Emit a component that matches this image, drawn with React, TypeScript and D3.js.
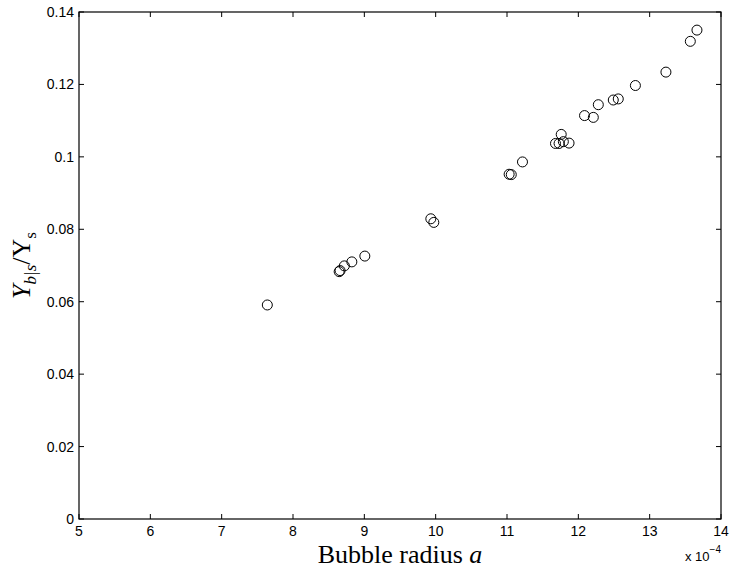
import React, { useEffect, useRef } from 'react';
import * as d3 from 'd3';

// bubble radius in units of 1e-4
const radius = [7.64, 8.647, 8.66, 8.72, 8.825, 9.007, 9.932, 9.974, 11.03, 11.06, 11.217,
  11.68, 11.73, 11.76, 11.79, 11.87, 12.087, 12.21, 12.28, 12.49, 12.56, 12.80, 13.228, 13.57, 13.663];
const ratio = [0.0591, 0.0683, 0.0686, 0.0699, 0.0710, 0.0726, 0.0829, 0.0819, 0.0952, 0.0951, 0.0986,
  0.1037, 0.1037, 0.1062, 0.1042, 0.1038, 0.1114, 0.1109, 0.1144, 0.1157, 0.1160, 0.1197, 0.1234, 0.1319, 0.1350];

const xTicks = [5, 6, 7, 8, 9, 10, 11, 12, 13, 14];
const yTicks = [0, 0.02, 0.04, 0.06, 0.08, 0.1, 0.12, 0.14];

const App = () => {
  const ref = useRef<SVGSVGElement | null>(null);

  useEffect(() => {
    const svg = d3.select(ref.current);
    svg.selectAll('*').remove();

    const left = 79, right = 721, top = 12, bottom = 519;
    const x = d3.scaleLinear().domain([5, 14]).range([left, right]);
    const y = d3.scaleLinear().domain([0, 0.14]).range([bottom, top]);
    const font = 'Liberation Sans, Arial, sans-serif';
    const serif = 'Liberation Serif, Times New Roman, serif';

    const g = svg.append('g');

    // box
    g.append('rect')
      .attr('x', left).attr('y', top)
      .attr('width', right - left).attr('height', bottom - top)
      .attr('fill', 'none').attr('stroke', '#000').attr('stroke-width', 1.2);

    const tl = 5;
    g.selectAll('.xt').data(xTicks).enter().append('path')
      .attr('d', d => `M${x(d)},${bottom}v${-tl}M${x(d)},${top}v${tl}`)
      .attr('stroke', '#000').attr('stroke-width', 1);
    g.selectAll('.yt').data(yTicks).enter().append('path')
      .attr('d', d => `M${left},${y(d)}h${tl}M${right},${y(d)}h${-tl}`)
      .attr('stroke', '#000').attr('stroke-width', 1);

    g.selectAll('.xl').data(xTicks).enter().append('text')
      .attr('x', d => x(d)).attr('y', bottom + 17)
      .attr('text-anchor', 'middle')
      .attr('font-family', font).attr('font-size', 14)
      .text(d => String(d));
    g.selectAll('.yl').data(yTicks).enter().append('text')
      .attr('x', left - 5).attr('y', d => y(d) + 5)
      .attr('text-anchor', 'end')
      .attr('font-family', font).attr('font-size', 14)
      .text(d => String(d));

    // exponent label
    const ex = g.append('text')
      .attr('x', 685).attr('y', 561)
      .attr('font-family', font).attr('font-size', 13);
    ex.append('tspan').text('x 10');
    ex.append('tspan').attr('dy', -8).attr('font-size', 10).text('−4');

    // points
    g.selectAll('.pt').data(radius).enter().append('circle')
      .attr('cx', d => x(d))
      .attr('cy', (d, i) => y(ratio[i]))
      .attr('r', 5)
      .attr('fill', 'none').attr('stroke', '#000').attr('stroke-width', 1);

    // axis titles
    g.append('text')
      .attr('x', (left + right) / 2).attr('y', 563)
      .attr('text-anchor', 'middle')
      .attr('font-family', serif).attr('font-size', 26)
      .call(t => {
        t.append('tspan').text('Bubble radius ');
        t.append('tspan').attr('font-style', 'italic').text('a');
      });

    const yl = g.append('text')
      .attr('transform', `translate(30,${(top + bottom) / 2}) rotate(-90)`)
      .attr('text-anchor', 'middle')
      .attr('font-family', serif).attr('font-size', 26);
    yl.append('tspan').attr('font-style', 'italic').text('Y');
    yl.append('tspan').attr('dy', 6).attr('font-size', 17).attr('font-style', 'italic').text('b|s');
    yl.append('tspan').attr('dy', -6).text('/');
    yl.append('tspan').text('Y');
    yl.append('tspan').attr('dy', 6).attr('font-size', 17).text('s');
  }, []);

  return (
    <svg ref={ref} width={730} height={569}
      style={{ position: 'absolute', left: 0, top: 0, background: '#fff' }} />
  );
};

export default App;
